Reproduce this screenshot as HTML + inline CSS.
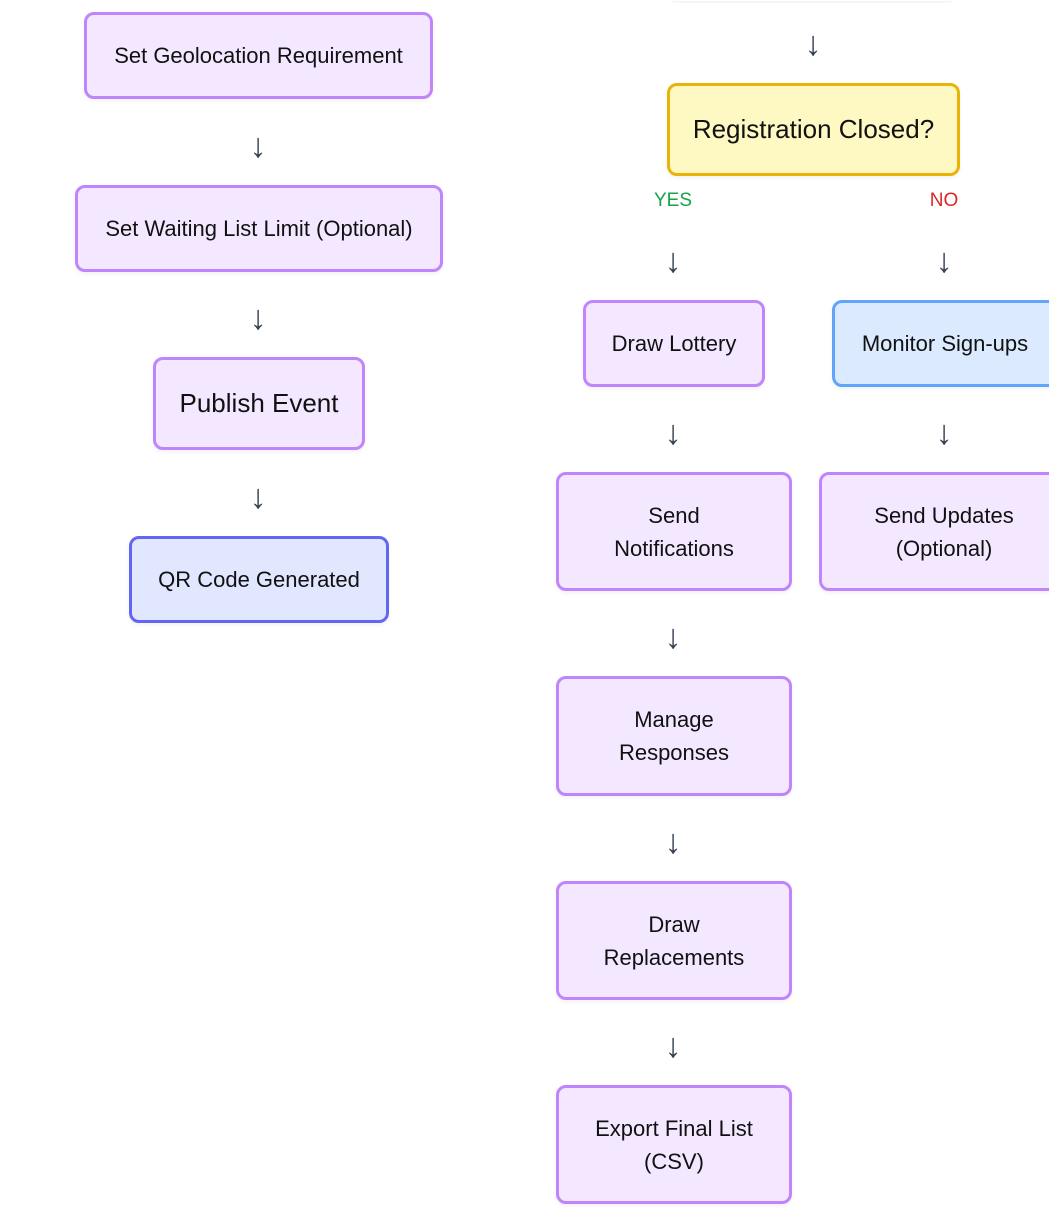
<!DOCTYPE html>
<html><head><style>
body{margin:0;width:1049px;height:1209px;background:#fff;position:relative;overflow:hidden;font-family:"Liberation Sans",sans-serif;}
.b{position:absolute;box-sizing:border-box;border:3px solid #c084fc;background:#f3e8ff;border-radius:10px;display:flex;align-items:center;justify-content:center;text-align:center;font-size:22px;color:#111;line-height:33px;box-shadow:0 2px 4px rgba(0,0,0,0.06);white-space:nowrap;}
.a{position:absolute;width:40px;margin-left:-20px;text-align:center;font-size:34px;color:#374151;line-height:32px;}
.l{position:absolute;font-size:19px;width:60px;margin-left:-30px;text-align:center;}
</style></head><body>
<div style="position:absolute;left:672px;top:-4px;width:280px;height:5px;box-shadow:0 1px 3px rgba(0,0,0,0.08);border-radius:4px"></div>
<div class="b" style="left:84px;top:12px;width:349px;height:87px">Set Geolocation Requirement</div>
<div class="a" style="left:258px;top:130px">↓</div>
<div class="b" style="left:75px;top:185px;width:368px;height:87px">Set Waiting List Limit (Optional)</div>
<div class="a" style="left:258px;top:302px">↓</div>
<div class="b" style="left:153px;top:357px;width:212px;height:93px;font-size:26px">Publish Event</div>
<div class="a" style="left:258px;top:481px">↓</div>
<div class="b" style="left:129px;top:536px;width:260px;height:87px;border-color:#6366f1;background:#e0e7ff">QR Code Generated</div>

<div class="a" style="left:813px;top:28px">↓</div>
<div class="b" style="left:667px;top:83px;width:293px;height:93px;font-size:26px;border-color:#eab308;background:#fef9c3">Registration Closed?</div>
<div class="l" style="left:673px;top:190px;color:#16a34a">YES</div>
<div class="l" style="left:944px;top:190px;color:#dc2626">NO</div>
<div class="a" style="left:673px;top:245px">↓</div>
<div class="a" style="left:944px;top:245px">↓</div>
<div class="b" style="left:583px;top:300px;width:182px;height:87px">Draw Lottery</div>
<div class="b" style="left:832px;top:300px;width:226px;height:87px;border-color:#60a5fa;background:#dbeafe">Monitor Sign-ups</div>
<div class="a" style="left:673px;top:417px">↓</div>
<div class="a" style="left:944px;top:417px">↓</div>
<div class="b" style="left:556px;top:472px;width:236px;height:119px">Send<br>Notifications</div>
<div class="b" style="left:819px;top:472px;width:250px;height:119px">Send Updates<br>(Optional)</div>
<div class="a" style="left:673px;top:621px">↓</div>
<div class="b" style="left:556px;top:676px;width:236px;height:120px">Manage<br>Responses</div>
<div class="a" style="left:673px;top:826px">↓</div>
<div class="b" style="left:556px;top:881px;width:236px;height:119px">Draw<br>Replacements</div>
<div class="a" style="left:673px;top:1030px">↓</div>
<div class="b" style="left:556px;top:1085px;width:236px;height:119px">Export Final List<br>(CSV)</div>
</body></html>
